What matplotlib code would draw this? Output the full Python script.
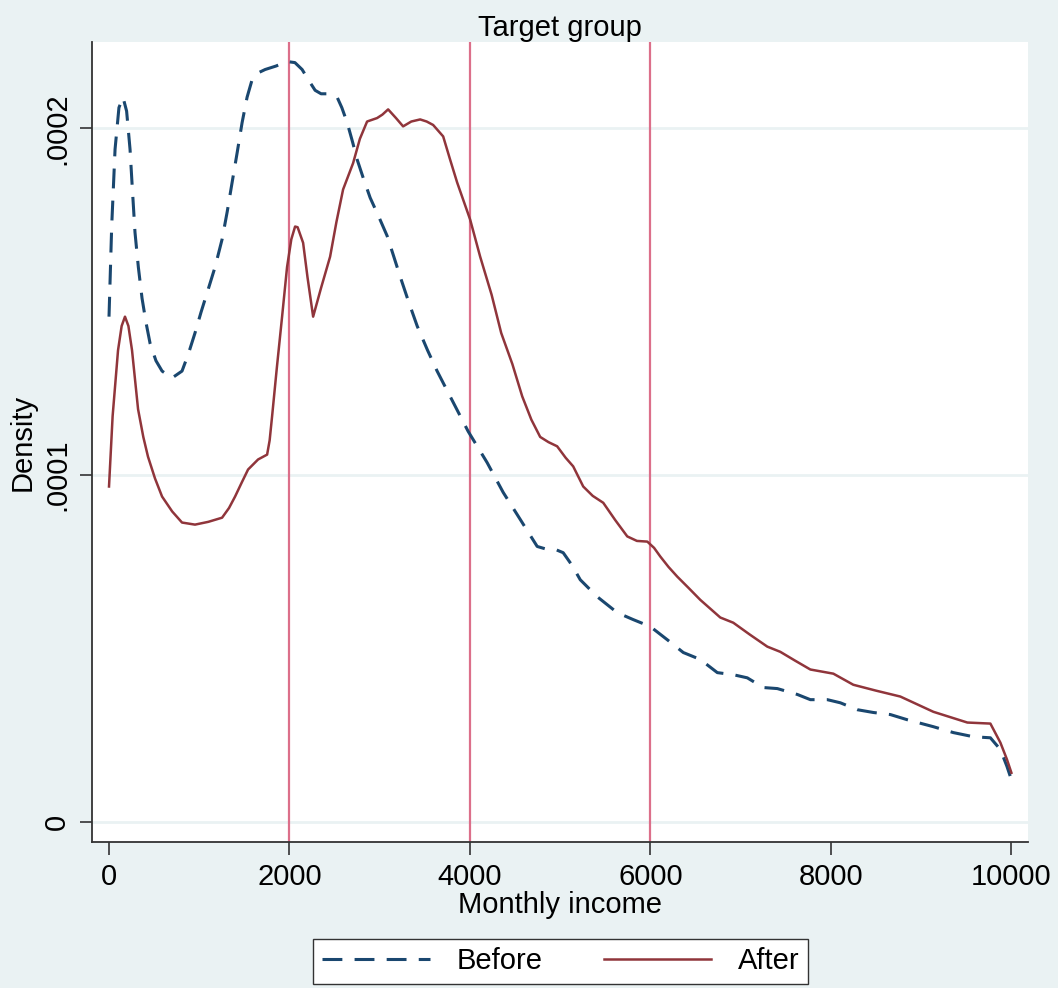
import numpy as np
import matplotlib
matplotlib.use("Agg")
import matplotlib.pyplot as plt

plt.rcParams["font.family"] = ["Liberation Sans Narrow", "Liberation Sans", "DejaVu Sans"]

# density estimates (densities in units of 1e-4)
income_before = [0, 30, 67, 110, 155, 195, 233, 260, 288, 325, 366, 410, 455, 520, 588, 698,
                 809, 880, 953, 1020, 1098, 1175, 1253, 1310, 1364, 1420, 1475, 1530, 1585,
                 1650, 1730, 1850, 1973, 2060, 2140, 2210, 2284, 2350, 2428, 2528, 2580, 2639,
                 2700, 2750, 2820, 2894, 2990, 3082, 3150, 3226, 3320, 3415, 3530, 3636, 3780,
                 3980, 4190, 4368, 4557, 4745, 4850, 4950, 5033, 5130, 5222, 5410, 5632, 5809,
                 5998, 6186, 6364, 6552, 6741, 6918, 7073, 7250, 7406, 7628, 7772, 7960, 8104,
                 8293, 8470, 8659, 8847, 9135, 9357, 9579, 9767, 9878, 9950, 10000]
dens_before = [1.457, 1.72, 1.94, 2.06, 2.09, 2.05, 1.94, 1.82, 1.70, 1.60, 1.51, 1.44, 1.38,
               1.33, 1.30, 1.28, 1.30, 1.35, 1.41, 1.47, 1.535, 1.60, 1.68, 1.76, 1.844, 1.93,
               2.017, 2.09, 2.14, 2.16, 2.17, 2.18, 2.193, 2.19, 2.17, 2.14, 2.11, 2.10, 2.10,
               2.09, 2.06, 2.017, 1.96, 1.91, 1.855, 1.80, 1.745, 1.69, 1.635, 1.573, 1.50, 1.43,
               1.36, 1.30, 1.227, 1.126, 1.036, 0.95, 0.872, 0.794, 0.786, 0.785, 0.776, 0.74,
               0.698, 0.649, 0.603, 0.583, 0.563, 0.525, 0.488, 0.468, 0.43, 0.424, 0.415,
               0.387, 0.384, 0.367, 0.352, 0.352, 0.343, 0.323, 0.315, 0.309, 0.294, 0.274,
               0.257, 0.245, 0.242, 0.208, 0.16, 0.121]

income_after = [0, 40, 100, 140, 177, 215, 255, 322, 380, 432, 510, 588, 700, 809, 953, 1100,
                1253, 1330, 1397, 1470, 1541, 1652, 1752, 1780, 1807, 1860, 1918, 1973, 2020,
                2062, 2090, 2151, 2200, 2262, 2350, 2450, 2520, 2594, 2705, 2780, 2860, 2971,
                3030, 3093, 3180, 3259, 3350, 3448, 3520, 3592, 3703, 3780, 3858, 4002, 4113,
                4240, 4346, 4470, 4579, 4680, 4778, 4870, 4966, 5060, 5144, 5255, 5360, 5477,
                5610, 5743, 5850, 5965, 6040, 6109, 6200, 6297, 6420, 6552, 6774, 6918, 7100,
                7295, 7439, 7600, 7772, 8027, 8248, 8500, 8769, 9135, 9512, 9767, 9878, 9950,
                10000]
dens_after = [0.967, 1.17, 1.36, 1.43, 1.457, 1.43, 1.36, 1.19, 1.11, 1.053, 0.99, 0.938, 0.895,
              0.863, 0.857, 0.865, 0.877, 0.905, 0.938, 0.978, 1.016, 1.045, 1.059, 1.10, 1.169,
              1.31, 1.457, 1.60, 1.68, 1.717, 1.715, 1.67, 1.57, 1.457, 1.54, 1.63, 1.73, 1.824,
              1.90, 1.97, 2.02, 2.03, 2.04, 2.055, 2.03, 2.006, 2.02, 2.026, 2.02, 2.01, 1.977,
              1.91, 1.844, 1.737, 1.63, 1.52, 1.41, 1.32, 1.227, 1.16, 1.11, 1.095, 1.083, 1.05,
              1.025, 0.967, 0.94, 0.92, 0.87, 0.823, 0.81, 0.808, 0.79, 0.765, 0.735, 0.707,
              0.675, 0.64, 0.589, 0.574, 0.54, 0.505, 0.49, 0.465, 0.439, 0.427, 0.395, 0.378,
              0.361, 0.317, 0.286, 0.283, 0.228, 0.18, 0.141]

ref_lines = [2000, 4000, 6000]
xticks = [0, 2000, 4000, 6000, 8000, 10000]
yticks = [0, 0.0001, 0.0002]
ytick_labels = ["0", ".0001", ".0002"]

bg = "#eaf2f3"
fig = plt.figure(figsize=(10.58, 9.88), dpi=100, facecolor=bg)
ax = fig.add_axes([0.087, 0.148, 0.885, 0.809])
ax.set_facecolor("white")

for y in yticks:
    ax.axhline(y, color=bg, lw=2, zorder=0)
for x in ref_lines:
    ax.axvline(x, color="#dc6f8a", lw=1.6, zorder=1)

ax.plot(income_before, np.array(dens_before) * 1e-4, color="#1a476f", lw=2.2,
        dashes=(6.5, 4), label="Before", zorder=3, solid_joinstyle="round")
ax.plot(income_after, np.array(dens_after) * 1e-4, color="#90353b", lw=1.8,
        label="After", zorder=3, solid_joinstyle="round")

ax.set_xlim(-188, 10188)
ax.set_ylim(-0.0000058, 0.0002248)
ax.set_xticks(xticks)
ax.set_xticklabels([str(t) for t in xticks])
ax.set_yticks(yticks)
ax.set_yticklabels(ytick_labels, rotation=90, va="center")
ax.tick_params(length=9, width=1.2, color="#333333", labelsize=21, pad=6)

for s in ["top", "right"]:
    ax.spines[s].set_visible(False)
for s in ["left", "bottom"]:
    ax.spines[s].set_color("#333333")
    ax.spines[s].set_linewidth(1.3)

ax.set_title("Target group", fontsize=21, pad=4)
ax.set_xlabel("Monthly income", fontsize=21, labelpad=0)
ax.set_ylabel("Density", fontsize=21, labelpad=5)

fig.legend(loc="center", bbox_to_anchor=(0.530, 0.027), ncol=2, fontsize=21,
           frameon=True, fancybox=False, edgecolor="#333333", facecolor="white",
           handlelength=3.7, handletextpad=0.9, columnspacing=2.1, borderpad=0.3,
           framealpha=1)

plt.savefig("out.png", dpi=100, facecolor=bg)
plt.close()
